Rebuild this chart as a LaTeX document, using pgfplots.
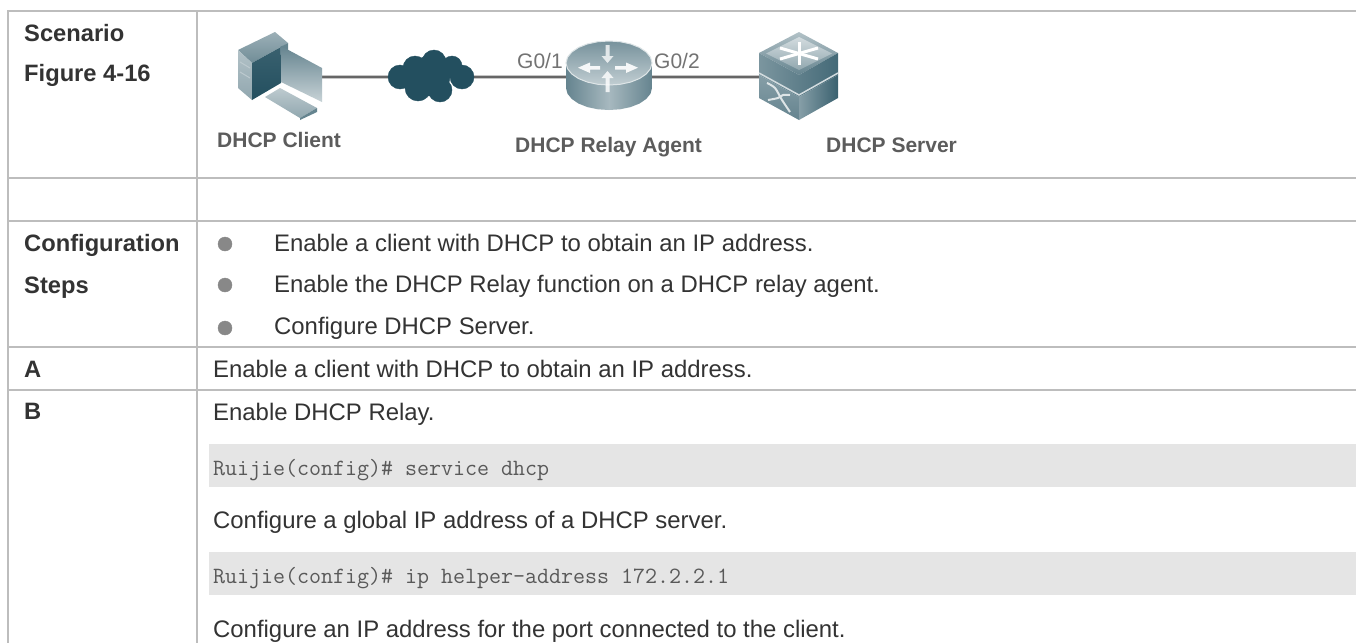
\documentclass[border=0pt]{standalone}
\usepackage{pgfplots}
\usepackage{fontspec}
\setmainfont{Liberation Sans}
\pgfplotsset{compat=1.18}
\definecolor{gridc}{HTML}{BDBDBD}
\definecolor{barc}{HTML}{E5E5E5}
\definecolor{body}{HTML}{333333}
\definecolor{diag}{HTML}{5C5C5C}
\definecolor{deep}{HTML}{234F5F}
\definecolor{bul}{HTML}{888888}
\newcommand\poly[2]{\addplot[draw=none,#1] coordinates {#2} --cycle;}
\newcommand\seg[2]{\addplot[#1] coordinates {#2};}
\newcommand\txt[4][body]{\node[anchor=base west,inner sep=0pt,text=#1] at (axis cs:#2,#3) {#4};}
\begin{document}
\begin{tikzpicture}
\begin{axis}[hide axis,scale only axis,width=1356pt,height=643pt,
  xmin=0,xmax=1356,ymin=0,ymax=643,y dir=reverse]
% page
\poly{fill=white}{(0,0)(1356,0)(1356,643)(0,643)}
% code bars
\poly{fill=barc}{(209,444)(1356,444)(1356,487)(209,487)}
\poly{fill=barc}{(209,552)(1356,552)(1356,595)(209,595)}
% grid
\seg{color=gridc,line width=2pt}{(7,11)(1356,11)}
\seg{color=gridc,line width=2pt}{(7,178)(1356,178)}
\seg{color=gridc,line width=2pt}{(7,221)(1356,221)}
\seg{color=gridc,line width=2pt}{(7,347)(1356,347)}
\seg{color=gridc,line width=2pt}{(7,390)(1356,390)}
\seg{color=gridc,line width=2pt}{(7.5,10)(7.5,643)}
\seg{color=gridc,line width=2pt}{(197,10)(197,643)}
% links
\seg{color=white!55!gray,line width=3.5pt}{(322,77)(390,77)}
\seg{color=white!55!gray,line width=3.5pt}{(470,77)(566,77)}
\seg{color=white!55!gray,line width=3.5pt}{(652,77)(760,77)}
\seg{color=black!60,line width=1.6pt}{(322,77)(390,77)}
\seg{color=black!60,line width=1.6pt}{(470,77)(566,77)}
\seg{color=black!60,line width=1.6pt}{(652,77)(760,77)}
% computer
\poly{top color=deep!45!white,bottom color=deep!65!white}{(238,50)(275,32)(288,43)(252,63)}
\poly{top color=deep!35!white,bottom color=deep!50!white}{(238,50)(252,63)(252,100)(238,88)}
\poly{top color=deep!90!white,bottom color=deep}{(252,63)(281,47)(281,83)(252,100)}
\poly{fill=deep!70!white}{(280,47)(288,43)(288,50)(280,55)}
\poly{top color=deep!70!white,bottom color=deep!25!white}{(281,46)(322,68)(322,102)(281,82)}
\poly{top color=deep!30!white,bottom color=deep!50!white}{(265,97)(280,88)(317,108)(300,118)}
\poly{fill=deep!70!white}{(300,118)(317,108)(317,112)(300,120)}
\seg{color=white!70!deep,line width=1pt}{(240,62)(250,68)}
\seg{color=white!70!deep,line width=1pt}{(240,72)(250,78)}
% cloud
\addplot[only marks,mark=*,mark size=12pt,color=deep,mark options={draw=deep,fill=deep}] coordinates {(400,77)(415,68)(434,62)(462,77)(440,90)};
\addplot[only marks,mark=*,mark size=13pt,color=deep,mark options={draw=deep,fill=deep}] coordinates {(418,88)};
\addplot[only marks,mark=*,mark size=10pt,color=deep,mark options={draw=deep,fill=deep}] coordinates {(452,66)};
\addplot[only marks,mark=*,mark size=20pt,color=deep,mark options={draw=deep,fill=deep}] coordinates {(430,76)};
% router
\poly{left color=deep!70!white,right color=deep!70!white,middle color=deep!40!white}{(566,63)(566,88)(567.5,93.7)(571.8,99)(578.6,103.6)(587.5,107.1)(597.9,109.3)(609,110)(620.1,109.3)(630.5,107.1)(639.4,103.6)(646.2,99)(650.5,93.7)(652,88)(652,63)}
\addplot[draw=deep!15!white,line width=1pt,top color=deep!62!white,bottom color=deep!28!white] coordinates {(652,63)(650.5,68.7)(646.2,74)(639.4,78.6)(630.5,82.1)(620.1,84.3)(609,85)(597.9,84.3)(587.5,82.1)(578.6,78.6)(571.8,74)(567.5,68.7)(566,63)(567.5,57.3)(571.8,52)(578.6,47.4)(587.5,43.9)(597.9,41.7)(609,41)(620.1,41.7)(630.5,43.9)(639.4,47.4)(646.2,52)(650.5,57.3)} --cycle;
\poly{fill=white,fill opacity=.9}{(578,67.7)(590,62.5)(590,66)(600,66)(600,69.5)(590,69.5)(590,73)}
\poly{fill=white,fill opacity=.9}{(638,67.7)(626,62.5)(626,66)(615,66)(615,69.5)(626,69.5)(626,73)}
\poly{fill=white,fill opacity=.75}{(605.5,45)(609.5,45)(609.5,56)(613.5,56)(607.5,63)(601.5,56)(605.5,56)}
\poly{fill=white,fill opacity=.8}{(607.5,71)(613.5,78)(609.5,78)(609.5,92)(605.5,92)(605.5,78)(601.5,78)}
% server
\poly{top color=deep!35!white,bottom color=deep!70!white}{(799,32)(838,53)(799,75)(759,53)}
\poly{top color=deep!20!white,bottom color=deep!50!white}{(799,37)(832,53.5)(799,70)(766,53.5)}
\poly{left color=deep!60!white,right color=deep!85!white}{(759,53)(799,75)(838,53)(838,75)(799,97)(759,75)}
\poly{top color=deep!55!white,bottom color=deep!70!white}{(759,75)(799,97)(799,120)(759,98)}
\poly{left color=deep!55!white,right color=deep!90!white}{(799,97)(838,75)(838,98)(799,120)}
\seg{color=deep!20!white,line width=1.5pt}{(759,73)(799,95)(838,73)}
\seg{white,line width=3pt}{(780,48)(818,59)}
\seg{white,line width=3pt}{(780,59)(818,48)}
\seg{white,line width=3pt}{(799,42)(799,65)}
\seg{color=white!85!deep,line width=2pt,smooth}{(767,83)(775,88)(782,100)(790,112)}
\seg{color=white!85!deep,line width=2pt,smooth}{(768,100)(778,98)(783,95)(790,95)}
% bullets
\addplot[only marks,mark=*,mark size=7pt,color=bul,mark options={draw=bul,fill=bul}] coordinates {(225,244)(225,285)(225,328)};
% text
\fontsize{23.9}{28}\selectfont
\txt{24}{41}{\fontsize{23.7}{28}\selectfont\bfseries Scenario}
\txt{24}{81}{\fontsize{23.7}{28}\selectfont\bfseries Figure 4-16}
\txt{24}{251}{\fontsize{23.7}{28}\selectfont\bfseries Configuration}
\txt{24}{293}{\fontsize{23.7}{28}\selectfont\bfseries Steps}
\txt{24}{377}{\fontsize{23.7}{28}\selectfont\bfseries A}
\txt{24}{419}{\fontsize{23.7}{28}\selectfont\bfseries B}
\txt{274}{251}{Enable a client with DHCP to obtain an IP address.}
\txt{274}{292}{Enable the DHCP Relay function on a DHCP relay agent.}
\txt{274}{334}{Configure DHCP Server.}
\txt{213}{377}{Enable a client with DHCP to obtain an IP address.}
\txt{213}{420}{Enable DHCP Relay.}
\txt{213}{528}{Configure a global IP address of a DHCP server.}
\txt{213}{637}{Configure an IP address for the port connected to the client.}
\txt[black!65]{213}{475}{\fontsize{23.3}{28}\selectfont\ttfamily Ruijie(config)\# service dhcp}
\txt[black!65]{213}{583}{\fontsize{23.3}{28}\selectfont\ttfamily Ruijie(config)\# ip helper-address 172.2.2.1}
\txt[diag]{217}{147}{\fontsize{21}{25}\selectfont\bfseries DHCP Client}
\txt[diag]{515}{152}{\fontsize{21}{25}\selectfont\bfseries DHCP Relay Agent}
\txt[diag]{826}{152}{\fontsize{21}{25}\selectfont\bfseries DHCP Server}
\txt[black!55]{517}{68}{\fontsize{21}{25}\selectfont G0/1}
\txt[black!55]{654}{68}{\fontsize{21}{25}\selectfont G0/2}
\end{axis}
\end{tikzpicture}
\end{document}
